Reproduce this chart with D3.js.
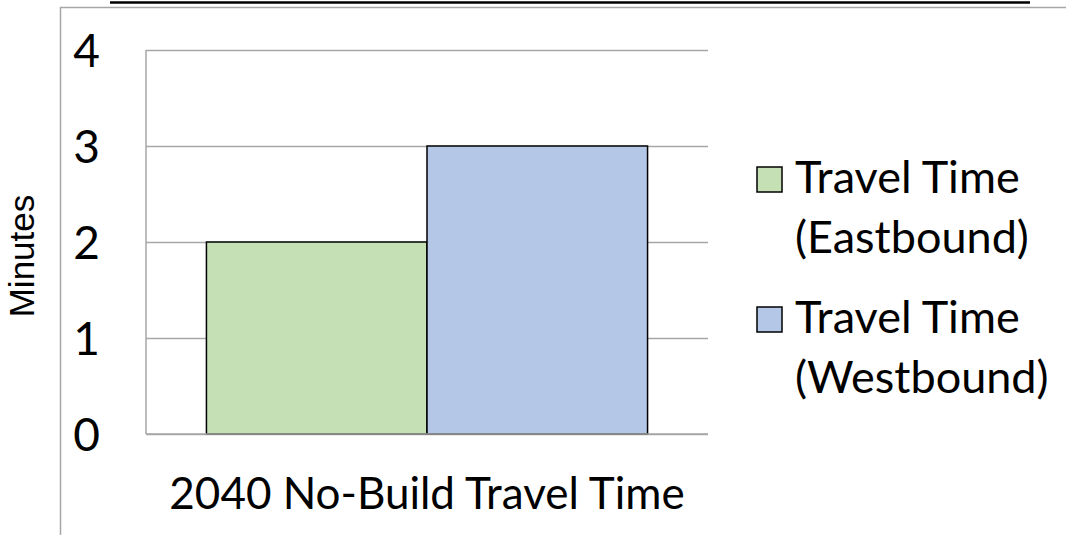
<!DOCTYPE html>
<html><head><meta charset="utf-8">
<script src="https://cdn.jsdelivr.net/npm/d3@7"></script>
<style>body{margin:0;background:#fff}svg{display:block}</style>
</head><body><svg id="c" width="1066" height="535"></svg>
<script>
const categories = ["2040 No-Build Travel Time"];
const seriesKeys = ["Eastbound", "Westbound"];
const eastbound = [2];
const westbound = [3];
const yTicks = [0, 1, 2, 3, 4];
const legendLines = [["Travel Time", "(Eastbound)"], ["Travel Time", "(Westbound)"]];
const colors = ["#c5e0b4", "#b4c7e7"];
const yTitle = "Minutes";

const svg = d3.select("#c");
const W = 1066, H = 535;
const m = {left: 146, right: 708, top: 50, bottom: 434};
const font = "Lato, 'Open Sans', sans-serif";
const grid = "#a6a6a6";

// outer frame fragments
svg.append("line").attr("x1", 110).attr("x2", 1030).attr("y1", 2.5).attr("y2", 2.5)
  .attr("stroke", "#000").attr("stroke-width", 2.5);
svg.append("path").attr("d", `M60.5,${H} V7.5 H${W}`).attr("fill", "none")
  .attr("stroke", grid).attr("stroke-width", 1.5);

const y = d3.scaleLinear().domain([0, 4]).range([m.bottom, m.top]);
const x0 = d3.scaleBand().domain(categories).range([m.left, m.right]).paddingInner(0).paddingOuter(0.137);
const x1 = d3.scaleBand().domain(seriesKeys).range([0, x0.bandwidth()]);
const col = d3.scaleOrdinal().domain(seriesKeys).range(colors);

// gridlines + tick labels
const yAxis = d3.axisLeft(y).tickValues(yTicks).tickSize(-(m.right - m.left)).tickFormat(d3.format("d"));
const ga = svg.append("g").attr("transform", `translate(${m.left},0)`).call(yAxis);
ga.select(".domain").remove();
ga.selectAll(".tick line").attr("stroke", grid).attr("stroke-width", 1.5);
ga.selectAll(".tick text").attr("font-family", font).attr("font-size", 46).attr("fill", "#000")
  .attr("dy", "0.36em").attr("x", -46);
// y axis line
svg.append("line").attr("x1", m.left).attr("x2", m.left).attr("y1", m.top).attr("y2", m.bottom)
  .attr("stroke", grid).attr("stroke-width", 1.5);

// bars
const data = categories.map((c, i) => ({cat: c, values: [
  {key: "Eastbound", v: eastbound[i]}, {key: "Westbound", v: westbound[i]}]}));
svg.append("g").selectAll("g").data(data).join("g")
  .attr("transform", d => `translate(${x0(d.cat)},0)`)
  .selectAll("rect").data(d => d.values).join("rect")
  .attr("x", d => x1(d.key)).attr("width", x1.bandwidth())
  .attr("y", d => y(d.v)).attr("height", d => y(0) - y(d.v))
  .attr("fill", d => col(d.key)).attr("stroke", "#000").attr("stroke-width", 1.5);

// x axis baseline
svg.append("line").attr("x1", m.left).attr("x2", m.right).attr("y1", y(0)).attr("y2", y(0))
  .attr("stroke", grid).attr("stroke-width", 1.5);

// x category label
svg.append("g").selectAll("text").data(categories).join("text")
  .attr("x", d => x0(d) + x0.bandwidth() / 2).attr("y", 509)
  .attr("text-anchor", "middle").attr("font-family", font).attr("font-size", 44).attr("fill", "#000")
  .text(d => d);

// y title
svg.append("text").attr("transform", "translate(34,256) rotate(-90)")
  .attr("text-anchor", "middle").attr("font-family", "'Liberation Sans', Arial, sans-serif")
  .attr("font-size", 35).attr("fill", "#000").text(yTitle);

// legend
const lg = svg.append("g").selectAll("g").data(seriesKeys).join("g")
  .attr("transform", (d, i) => `translate(757,${167 + i * 140})`);
lg.append("rect").attr("width", 25).attr("height", 25)
  .attr("fill", d => col(d)).attr("stroke", "#000").attr("stroke-width", 1.5);
lg.append("text").attr("font-family", font).attr("font-size", 45).attr("fill", "#000")
  .selectAll("tspan").data((d, i) => legendLines[i]).join("tspan")
  .attr("x", 38).attr("y", (d, j) => 26 + j * 60).text(d => d);
</script>
</body></html>
